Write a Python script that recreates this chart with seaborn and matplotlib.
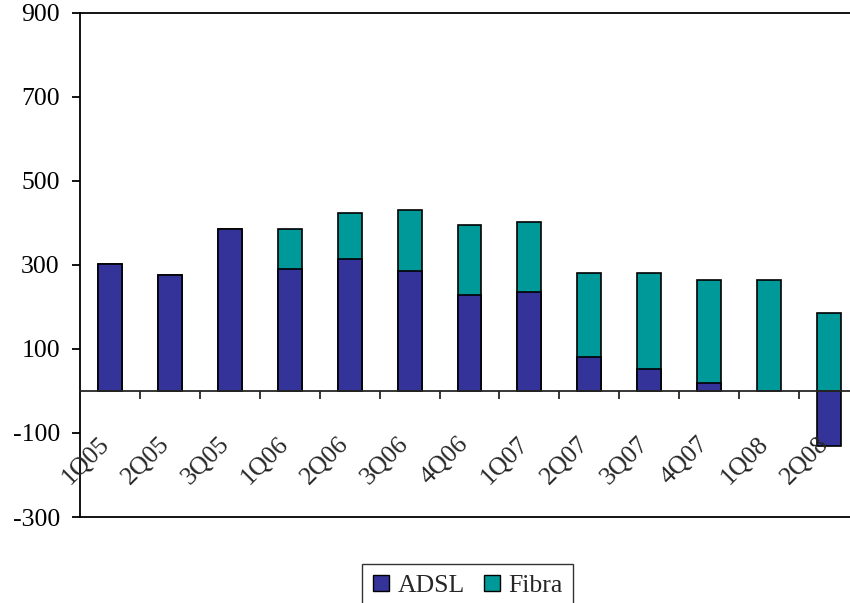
import numpy as np
import pandas as pd
import matplotlib
matplotlib.use("Agg")
import matplotlib.pyplot as plt
import seaborn as sns
from matplotlib.patches import Patch

# data
quarters = ["1Q05", "2Q05", "3Q05", "1Q06", "2Q06", "3Q06", "4Q06",
            "1Q07", "2Q07", "3Q07", "4Q07", "1Q08", "2Q08"]
adsl = [303, 277, 386, 291, 313, 285, 229, 236, 80, 51, 19, 0, -131]
fibra = [0, 0, 0, 95, 110, 146, 165, 166, 200, 229, 244, 263, 186]
y_ticks = [-300, -100, 100, 300, 500, 700, 900]

ADSL_COLOR = "#333399"
FIBRA_COLOR = "#009999"

sns.set_style("ticks")
plt.rcParams["font.family"] = ["Liberation Serif", "DejaVu Serif"]
plt.rcParams["font.size"] = 18.5
plt.rcParams["axes.unicode_minus"] = False

df = pd.DataFrame({"quarter": quarters, "ADSL": adsl, "Fibra": fibra})
# stacked: fibra sits on top of positive adsl, starts at zero otherwise
df["total"] = df["ADSL"].clip(lower=0) + df["Fibra"]

fig = plt.figure(figsize=(8.5, 6.03), dpi=100)
ax = fig.add_axes([80 / 850, 1 - 517 / 603, 779 / 850, (517 - 12.7) / 603])

bar_kw = dict(width=0.4, edgecolor="black", linewidth=1.2, saturation=1, ax=ax)
sns.barplot(data=df, x="quarter", y="total", color=FIBRA_COLOR, **bar_kw)
sns.barplot(data=df, x="quarter", y="ADSL", color=ADSL_COLOR, **bar_kw)

ax.set_ylim(-300, 900)
ax.set_xlim(-0.5, len(quarters) - 0.5)
ax.set_yticks(y_ticks)
ax.set_xlabel("")
ax.set_ylabel("")
ax.tick_params(axis="x", bottom=False, labelbottom=False)
ax.tick_params(axis="y", length=6, width=1.3, direction="out", pad=8.5,
               colors="black", labelsize=18.5)
for s in ["left", "top", "bottom", "right"]:
    ax.spines[s].set_visible(True)
    ax.spines[s].set_color("black")
    ax.spines[s].set_linewidth(1.3)

# category axis crossing at zero, labels drawn over the bars
zero_frac = (0 - (-300)) / 1200
sec = ax.secondary_xaxis(zero_frac)
sec.set_zorder(5)
sec.spines["bottom"].set_linewidth(1.3)
sec.set_xticks(np.arange(0.5, len(quarters) - 1, 1.0))
sec.set_xticks(np.arange(len(quarters)), labels=quarters, minor=True)
sec.tick_params(which="major", length=6, width=1.3, direction="out", labelbottom=False)
sec.tick_params(which="minor", length=0, pad=39, labelsize=18.5)
for lab in sec.get_xticklabels(minor=True):
    lab.set_rotation(45)
    lab.set_ha("right")
    lab.set_va("baseline")
    lab.set_rotation_mode("anchor")

handles = [Patch(facecolor=ADSL_COLOR, edgecolor="black", label="ADSL"),
           Patch(facecolor=FIBRA_COLOR, edgecolor="black", label="Fibra")]
leg = fig.legend(handles=handles, loc="center", bbox_to_anchor=(467.7 / 850, 1 - 586 / 603),
                 ncol=2, frameon=True, fancybox=False, edgecolor="black",
                 fontsize=18.5, handlelength=0.62, handleheight=0.62, handletextpad=0.32,
                 columnspacing=0.75, borderpad=0.42, borderaxespad=0)
leg.get_frame().set_linewidth(1.0)

fig.savefig("out.png", dpi=100)
